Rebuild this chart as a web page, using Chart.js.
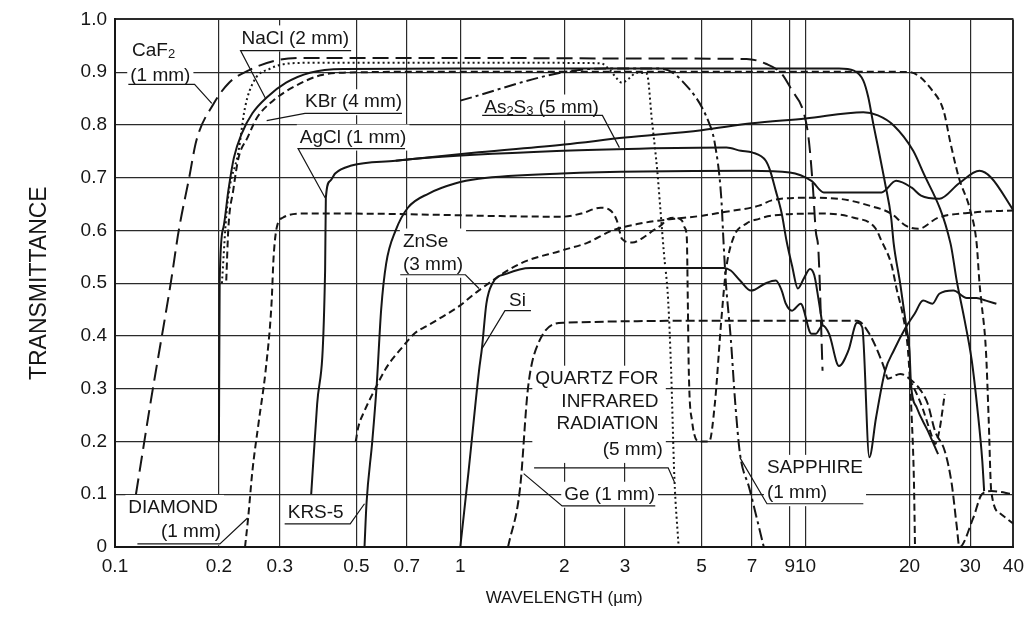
<!DOCTYPE html>
<html>
<head>
<meta charset="utf-8">
<script src="https://cdn.jsdelivr.net/npm/chart.js@4.4.1/dist/chart.umd.min.js"></script>
<style>
  html, body { margin: 0; padding: 0; background: #fff; }
</style>
</head>
<body>
<canvas id="chart" width="1032" height="639"></canvas>
<script>
// -------------------- Axis ticks --------------------
const xTickValues = [0.1, 0.2, 0.3, 0.5, 0.7, 1, 2, 3, 5, 7, 9, 10, 20, 30, 40];

// -------------------- Curves: wavelength (µm) / transmittance --------------------
const caf2Wl = [0.115, 0.127, 0.145, 0.153, 0.164, 0.172, 0.193, 0.214, 0.243, 0.292, 0.35, 1.0, 3.0, 6.75, 7.67, 8.53, 9.14, 9.84, 10.2, 10.5, 10.7, 10.9, 11.2];
const caf2T  = [0.10, 0.277, 0.50, 0.60, 0.70, 0.77, 0.84, 0.88, 0.903, 0.922, 0.927, 0.927, 0.926, 0.925, 0.916, 0.897, 0.865, 0.827, 0.776, 0.683, 0.60, 0.56, 0.334];

const naclWl = [0.200, 0.201, 0.206, 0.213, 0.221, 0.233, 0.250, 0.275, 0.313, 0.367, 0.458, 1.0, 5.0, 12.5, 13.8, 14.7, 15.2, 15.7, 16.2, 17.0, 17.7, 18.0, 18.8, 19.6, 20.0, 20.2, 21.0, 22.6, 24.2];
const naclT  = [0.20, 0.505, 0.605, 0.676, 0.738, 0.784, 0.822, 0.852, 0.880, 0.899, 0.906, 0.907, 0.907, 0.907, 0.903, 0.884, 0.852, 0.803, 0.759, 0.689, 0.624, 0.575, 0.499, 0.416, 0.372, 0.309, 0.264, 0.22, 0.176];

const kbrWl = [0.210, 0.213, 0.220, 0.228, 0.242, 0.258, 0.287, 0.327, 0.393, 0.458, 1.0, 5.0, 15.0, 20.0, 23.3, 25.1, 26.3, 27.8, 30.0, 31.3, 31.9, 32.3, 33.3, 33.9, 34.5, 36.7, 40];
const kbrT  = [0.505, 0.605, 0.676, 0.738, 0.776, 0.814, 0.846, 0.871, 0.894, 0.899, 0.901, 0.901, 0.901, 0.90, 0.865, 0.827, 0.765, 0.70, 0.638, 0.575, 0.50, 0.465, 0.372, 0.245, 0.106, 0.063, 0.044];

const quartzWl = [0.204, 0.211, 0.228, 0.238, 0.253, 0.282, 0.327, 0.408, 1.0, 2.55, 2.72, 2.84, 2.94, 3.08, 3.24, 3.47, 3.59, 3.72, 3.80, 3.89, 4.0, 4.08, 4.17, 4.29];
const quartzT  = [0.50, 0.643, 0.751, 0.833, 0.884, 0.907, 0.917, 0.918, 0.918, 0.917, 0.903, 0.888, 0.880, 0.888, 0.899, 0.897, 0.808, 0.713, 0.638, 0.556, 0.467, 0.334, 0.131, 0];

const agclWl = [0.370, 0.385, 0.406, 0.408, 0.420, 0.434, 0.484, 0.65, 1.13, 2.0, 3.0, 5.0, 7.0, 10.0, 14.7, 16.2, 18.0, 20.5, 21.6, 26.3, 27.4, 28.9, 30.3, 31.5, 32.5, 32.9];
const agclT  = [0.10, 0.271, 0.524, 0.662, 0.694, 0.708, 0.723, 0.732, 0.748, 0.763, 0.776, 0.79, 0.803, 0.812, 0.824, 0.818, 0.799, 0.751, 0.719, 0.575, 0.505, 0.429, 0.353, 0.258, 0.163, 0.106];

const as2s3Wl = [0.65, 0.74, 1.99, 3.3, 5.9, 6.5, 7.0, 7.67, 7.9, 8.2, 8.53, 8.81, 9.14, 9.5, 9.9, 10.3, 10.6, 10.9, 11.2];
const as2s3T  = [0.732, 0.736, 0.751, 0.755, 0.757, 0.751, 0.748, 0.732, 0.713, 0.675, 0.632, 0.58, 0.533, 0.49, 0.51, 0.527, 0.515, 0.47, 0.42];

const krs5Wl = [0.528, 0.535, 0.556, 0.573, 0.59, 0.61, 0.65, 0.705, 0.81, 0.965, 1.13, 1.97, 6.9, 9.0, 10.4, 11.3, 16.6, 18.3, 20.3, 21.6, 24.4, 27.8, 31.9, 34.5, 40];
const krs5T  = [0, 0.082, 0.2, 0.309, 0.45, 0.537, 0.60, 0.643, 0.67, 0.689, 0.698, 0.708, 0.713, 0.71, 0.694, 0.672, 0.672, 0.694, 0.681, 0.666, 0.66, 0.689, 0.713, 0.70, 0.638];

const znseWl = [0.498, 0.506, 0.528, 0.563, 0.611, 0.678, 0.741, 0.796, 0.855, 0.99, 1.13, 1.49, 1.97, 2.34, 2.76, 3.31, 3.80, 4.17, 5.03, 5.7, 7.33, 7.98, 10.2, 12.5, 15.3, 17.7, 19.5, 21.2, 24.2, 30.6, 40];
const znseT  = [0.20, 0.226, 0.258, 0.296, 0.34, 0.378, 0.406, 0.418, 0.43, 0.456, 0.486, 0.537, 0.562, 0.577, 0.60, 0.613, 0.619, 0.622, 0.628, 0.634, 0.647, 0.657, 0.662, 0.66, 0.647, 0.632, 0.609, 0.603, 0.624, 0.634, 0.638];

const diamondWl = [0.238, 0.243, 0.250, 0.261, 0.273, 0.284, 0.288, 0.294, 0.306, 0.35, 0.458, 1.97, 2.24, 2.55, 2.72, 2.84, 2.89, 2.94, 3.15, 3.38, 3.62, 3.80, 4.0, 4.17, 4.38, 4.47, 4.53, 4.56, 4.59, 4.69, 4.93, 5.26, 5.46, 5.70, 5.88, 6.18, 6.74, 7.33, 7.98, 11.2, 13.8, 15.9, 16.6, 17.7, 18.4, 19.2, 19.8, 20.3, 20.6, 20.75];
const diamondT  = [0, 0.055, 0.144, 0.239, 0.334, 0.461, 0.55, 0.605, 0.624, 0.632, 0.632, 0.626, 0.632, 0.643, 0.638, 0.619, 0.60, 0.584, 0.577, 0.586, 0.60, 0.609, 0.622, 0.624, 0.619, 0.605, 0.586, 0.467, 0.334, 0.239, 0.20, 0.20, 0.271, 0.429, 0.524, 0.586, 0.613, 0.622, 0.628, 0.632, 0.624, 0.605, 0.58, 0.537, 0.486, 0.435, 0.372, 0.245, 0.125, 0];

const geWl = [1.375, 1.49, 1.57, 1.68, 1.99, 6.9, 14.1, 15.3, 16.6, 17.0, 17.3, 18.8, 20.0, 21.6, 22.6, 23.7, 25.3, 26.5, 27.4, 27.9, 30.6, 32.4, 34.5, 40];
const geT  = [0, 0.112, 0.30, 0.385, 0.425, 0.429, 0.429, 0.404, 0.353, 0.334, 0.319, 0.328, 0.319, 0.296, 0.271, 0.22, 0.182, 0.12, 0.04, 0, 0.055, 0.10, 0.106, 0.10];

const geBandWl = [20.0, 21.6, 23.3, 23.7, 24.4, 25.3];
const geBandT  = [0.319, 0.271, 0.207, 0.195, 0.22, 0.29];

const sapphireWl = [1.0, 1.99, 2.6, 3.8, 4.38, 5.26, 5.46, 5.70, 5.79, 5.88, 6.07, 6.26, 6.46, 6.87, 7.57];
const sapphireT  = [0.846, 0.90, 0.907, 0.907, 0.884, 0.803, 0.765, 0.662, 0.575, 0.50, 0.397, 0.271, 0.176, 0.112, 0];

const siWl = [1.0, 1.057, 1.133, 1.156, 1.19, 1.24, 1.365, 1.6, 5.8, 6.07, 6.46, 6.95, 7.67, 8.2, 8.53, 8.77, 9.14, 9.68, 10.4, 10.7, 11.2, 11.7, 12.5, 13.3, 14.1, 14.6, 15.3, 16.0, 17.0, 18.0, 19.5, 20.7, 21.9, 23.3, 24.4, 26.8, 29.3, 31.3, 33.3, 35.7];
const siT  = [0, 0.144, 0.334, 0.378, 0.461, 0.50, 0.518, 0.529, 0.529, 0.524, 0.505, 0.486, 0.50, 0.505, 0.486, 0.461, 0.448, 0.461, 0.404, 0.404, 0.42, 0.404, 0.343, 0.372, 0.425, 0.416, 0.17, 0.245, 0.334, 0.372, 0.416, 0.442, 0.467, 0.461, 0.48, 0.486, 0.472, 0.472, 0.467, 0.461];

// -------------------- Callout labels (anchored in wavelength / transmittance) --------------------
const callouts = [
  { lines: [['CaF_2', 0.112, 0.941], ['(1 mm)', 0.1107, 0.894]], leader: [[0.1093, 0.877], [0.170, 0.877], [0.1907, 0.841]] },
  { lines: [['NaCl (2 mm)', 0.2324, 0.964]], leader: [[0.483, 0.941], [0.231, 0.941], [0.273, 0.850]] },
  { lines: [['KBr (4 mm)', 0.355, 0.843]], leader: [[0.678, 0.822], [0.355, 0.822], [0.275, 0.808]] },
  { lines: [['AgCl (1 mm)', 0.343, 0.776]], leader: [[0.692, 0.755], [0.339, 0.755], [0.406, 0.662]] },
  { lines: [['As_2S_3 (5 mm)', 1.173, 0.833]], leader: [[1.157, 0.818], [2.58, 0.818], [2.89, 0.757]] },
  { lines: [['ZnSe', 0.682, 0.579], ['(3 mm)', 0.682, 0.535]], leader: [[0.670, 0.516], [1.035, 0.516], [1.133, 0.49]] },
  { lines: [['Si', 1.385, 0.467]], leader: [[1.602, 0.448], [1.347, 0.448], [1.156, 0.376]] },
  { align: 'right', lines: [['QUARTZ FOR', 3.75, 0.319], ['INFRARED', 3.75, 0.275], ['RADIATION', 3.75, 0.233], ['(5 mm)', 3.86, 0.184]], leader: [[1.636, 0.150], [4.0, 0.150], [4.17, 0.123]] },
  { lines: [['Ge (1 mm)', 2.0, 0.099]], leader: [[3.67, 0.078], [1.972, 0.078], [1.526, 0.139]] },
  { lines: [['SAPPHIRE', 7.73, 0.15], ['(1 mm)', 7.73, 0.102]], leader: [[14.7, 0.082], [7.73, 0.082], [6.46, 0.169]] },
  { lines: [['DIAMOND', 0.1093, 0.074], ['(1 mm)', 0.1358, 0.028]], leader: [[0.1161, 0.006], [0.2013, 0.006], [0.242, 0.055]] },
  { lines: [['KRS-5', 0.3164, 0.065]], leader: [[0.310, 0.044], [0.480, 0.044], [0.528, 0.082]] },
];

// -------------------- Helpers --------------------
const INK = '#161616';
const FONT_FAMILY = "'Liberation Sans', Arial, sans-serif";
const labelFont = `19px ${FONT_FAMILY}`;
const subFont = `13px ${FONT_FAMILY}`;

function pts(wl, t) {
  return wl.map((x, i) => ({ x, y: t[i] }));
}

function curve(wl, t, dash) {
  return {
    data: pts(wl, t),
    borderColor: INK,
    borderWidth: 2,
    borderDash: dash || [],
    pointRadius: 0,
    fill: false,
    cubicInterpolationMode: 'monotone',
  };
}

// split "As_2S_3" into normal / subscript parts
function segs(str) {
  return str.split(/(_\d)/).filter(s => s).map(s => s[0] === '_' ? { t: s.slice(1), sub: true } : { t: s, sub: false });
}

function textWidth(ctx, parts) {
  let w = 0;
  parts.forEach(p => { ctx.font = p.sub ? subFont : labelFont; w += ctx.measureText(p.t).width; });
  return w;
}

function lineBoxes(ctx, c, xs, ys) {
  return c.lines.map(([txt, wl, tr]) => {
    const parts = segs(txt);
    const w = textWidth(ctx, parts);
    const px = xs.getPixelForValue(wl);
    const py = ys.getPixelForValue(tr);
    const left = c.align === 'right' ? px - w : px;
    return { parts, left, w, py };
  });
}

const calloutPlugin = {
  id: 'callouts',
  beforeDatasetsDraw(chart) {
    const { ctx, scales: { x, y } } = chart;
    ctx.save();
    ctx.fillStyle = '#fff';
    callouts.forEach(c => {
      const boxes = lineBoxes(ctx, c, x, y);
      let l = Infinity, r = -Infinity, t = Infinity, b = -Infinity;
      boxes.forEach(bx => {
        l = Math.min(l, bx.left); r = Math.max(r, bx.left + bx.w);
        t = Math.min(t, bx.py - 11); b = Math.max(b, bx.py + 11);
      });
      ctx.fillRect(l - 3, t - 2, r - l + 6, b - t + 4);
    });
    ctx.restore();
  },
  afterDatasetsDraw(chart) {
    const { ctx, scales: { x, y } } = chart;
    ctx.save();
    ctx.fillStyle = INK;
    ctx.strokeStyle = INK;
    ctx.textBaseline = 'middle';
    ctx.textAlign = 'left';
    callouts.forEach(c => {
      lineBoxes(ctx, c, x, y).forEach(bx => {
        let cx = bx.left;
        bx.parts.forEach(p => {
          ctx.font = p.sub ? subFont : labelFont;
          ctx.fillText(p.t, cx, p.sub ? bx.py + 4 : bx.py);
          cx += ctx.measureText(p.t).width;
        });
      });
      ctx.lineWidth = 1.2;
      ctx.beginPath();
      c.leader.forEach(([wl, tr], i) => {
        const px = x.getPixelForValue(wl), py = y.getPixelForValue(tr);
        if (i === 0) ctx.moveTo(px, py); else ctx.lineTo(px, py);
      });
      ctx.stroke();
    });
    ctx.restore();
  }
};

// -------------------- Chart --------------------
const ctx = document.getElementById('chart').getContext('2d');
const chart = new Chart(ctx, {
  type: 'line',
  data: {
    datasets: [
      curve(caf2Wl, caf2T, [16, 7]),
      curve(naclWl, naclT),
      curve(kbrWl, kbrT, [7, 4]),
      curve(quartzWl, quartzT, [2, 3]),
      curve(agclWl, agclT),
      curve(as2s3Wl, as2s3T),
      curve(krs5Wl, krs5T),
      curve(znseWl, znseT, [7, 4]),
      curve(diamondWl, diamondT, [7, 4]),
      curve(geWl, geT, [9, 4]),
      curve(geBandWl, geBandT, [7, 4]),
      curve(sapphireWl, sapphireT, [12, 4, 3, 4]),
      curve(siWl, siT),
    ]
  },
  options: {
    responsive: false,
    animation: false,
    devicePixelRatio: 1,
    layout: { padding: { top: 19, right: 15, left: 0, bottom: 0 } },
    plugins: { legend: { display: false }, tooltip: { enabled: false } },
    scales: {
      x: {
        type: 'logarithmic',
        min: 0.1,
        max: 40,
        afterBuildTicks: s => { s.ticks = xTickValues.map(v => ({ value: v })); },
        afterFit: s => { s.height = 92; },
        ticks: {
          autoSkip: false,
          maxRotation: 0,
          padding: 8,
          color: INK,
          font: { family: FONT_FAMILY, size: 19 },
          callback: v => String(v),
        },
        grid: {
          color: '#2a2a2a',
          drawTicks: false,
          lineWidth: c => (c.tick && (c.tick.value === 0.1 || c.tick.value === 40)) ? 2 : 1.2,
        },
        border: { color: INK, width: 2 },
        title: {
          display: true,
          text: 'WAVELENGTH (µm)',
          color: INK,
          font: { family: FONT_FAMILY, size: 17 },
          padding: { top: 0, bottom: 30 },
        },
      },
      y: {
        type: 'linear',
        min: 0,
        max: 1,
        afterFit: s => { s.width = 115; },
        ticks: {
          stepSize: 0.1,
          padding: 8,
          color: INK,
          font: { family: FONT_FAMILY, size: 19 },
          callback: v => Math.abs(v) < 1e-9 ? '0' : v.toFixed(1),
        },
        grid: {
          color: '#2a2a2a',
          drawTicks: false,
          lineWidth: c => (c.tick && (Math.abs(c.tick.value) < 1e-9 || Math.abs(c.tick.value - 1) < 1e-9)) ? 2 : 1.2,
        },
        border: { color: INK, width: 2 },
        title: {
          display: true,
          text: 'TRANSMITTANCE',
          color: INK,
          font: { family: FONT_FAMILY, size: 23 },
          padding: { top: 26, bottom: 0 },
        },
      }
    }
  },
  plugins: [calloutPlugin]
});
</script>
</body>
</html>
